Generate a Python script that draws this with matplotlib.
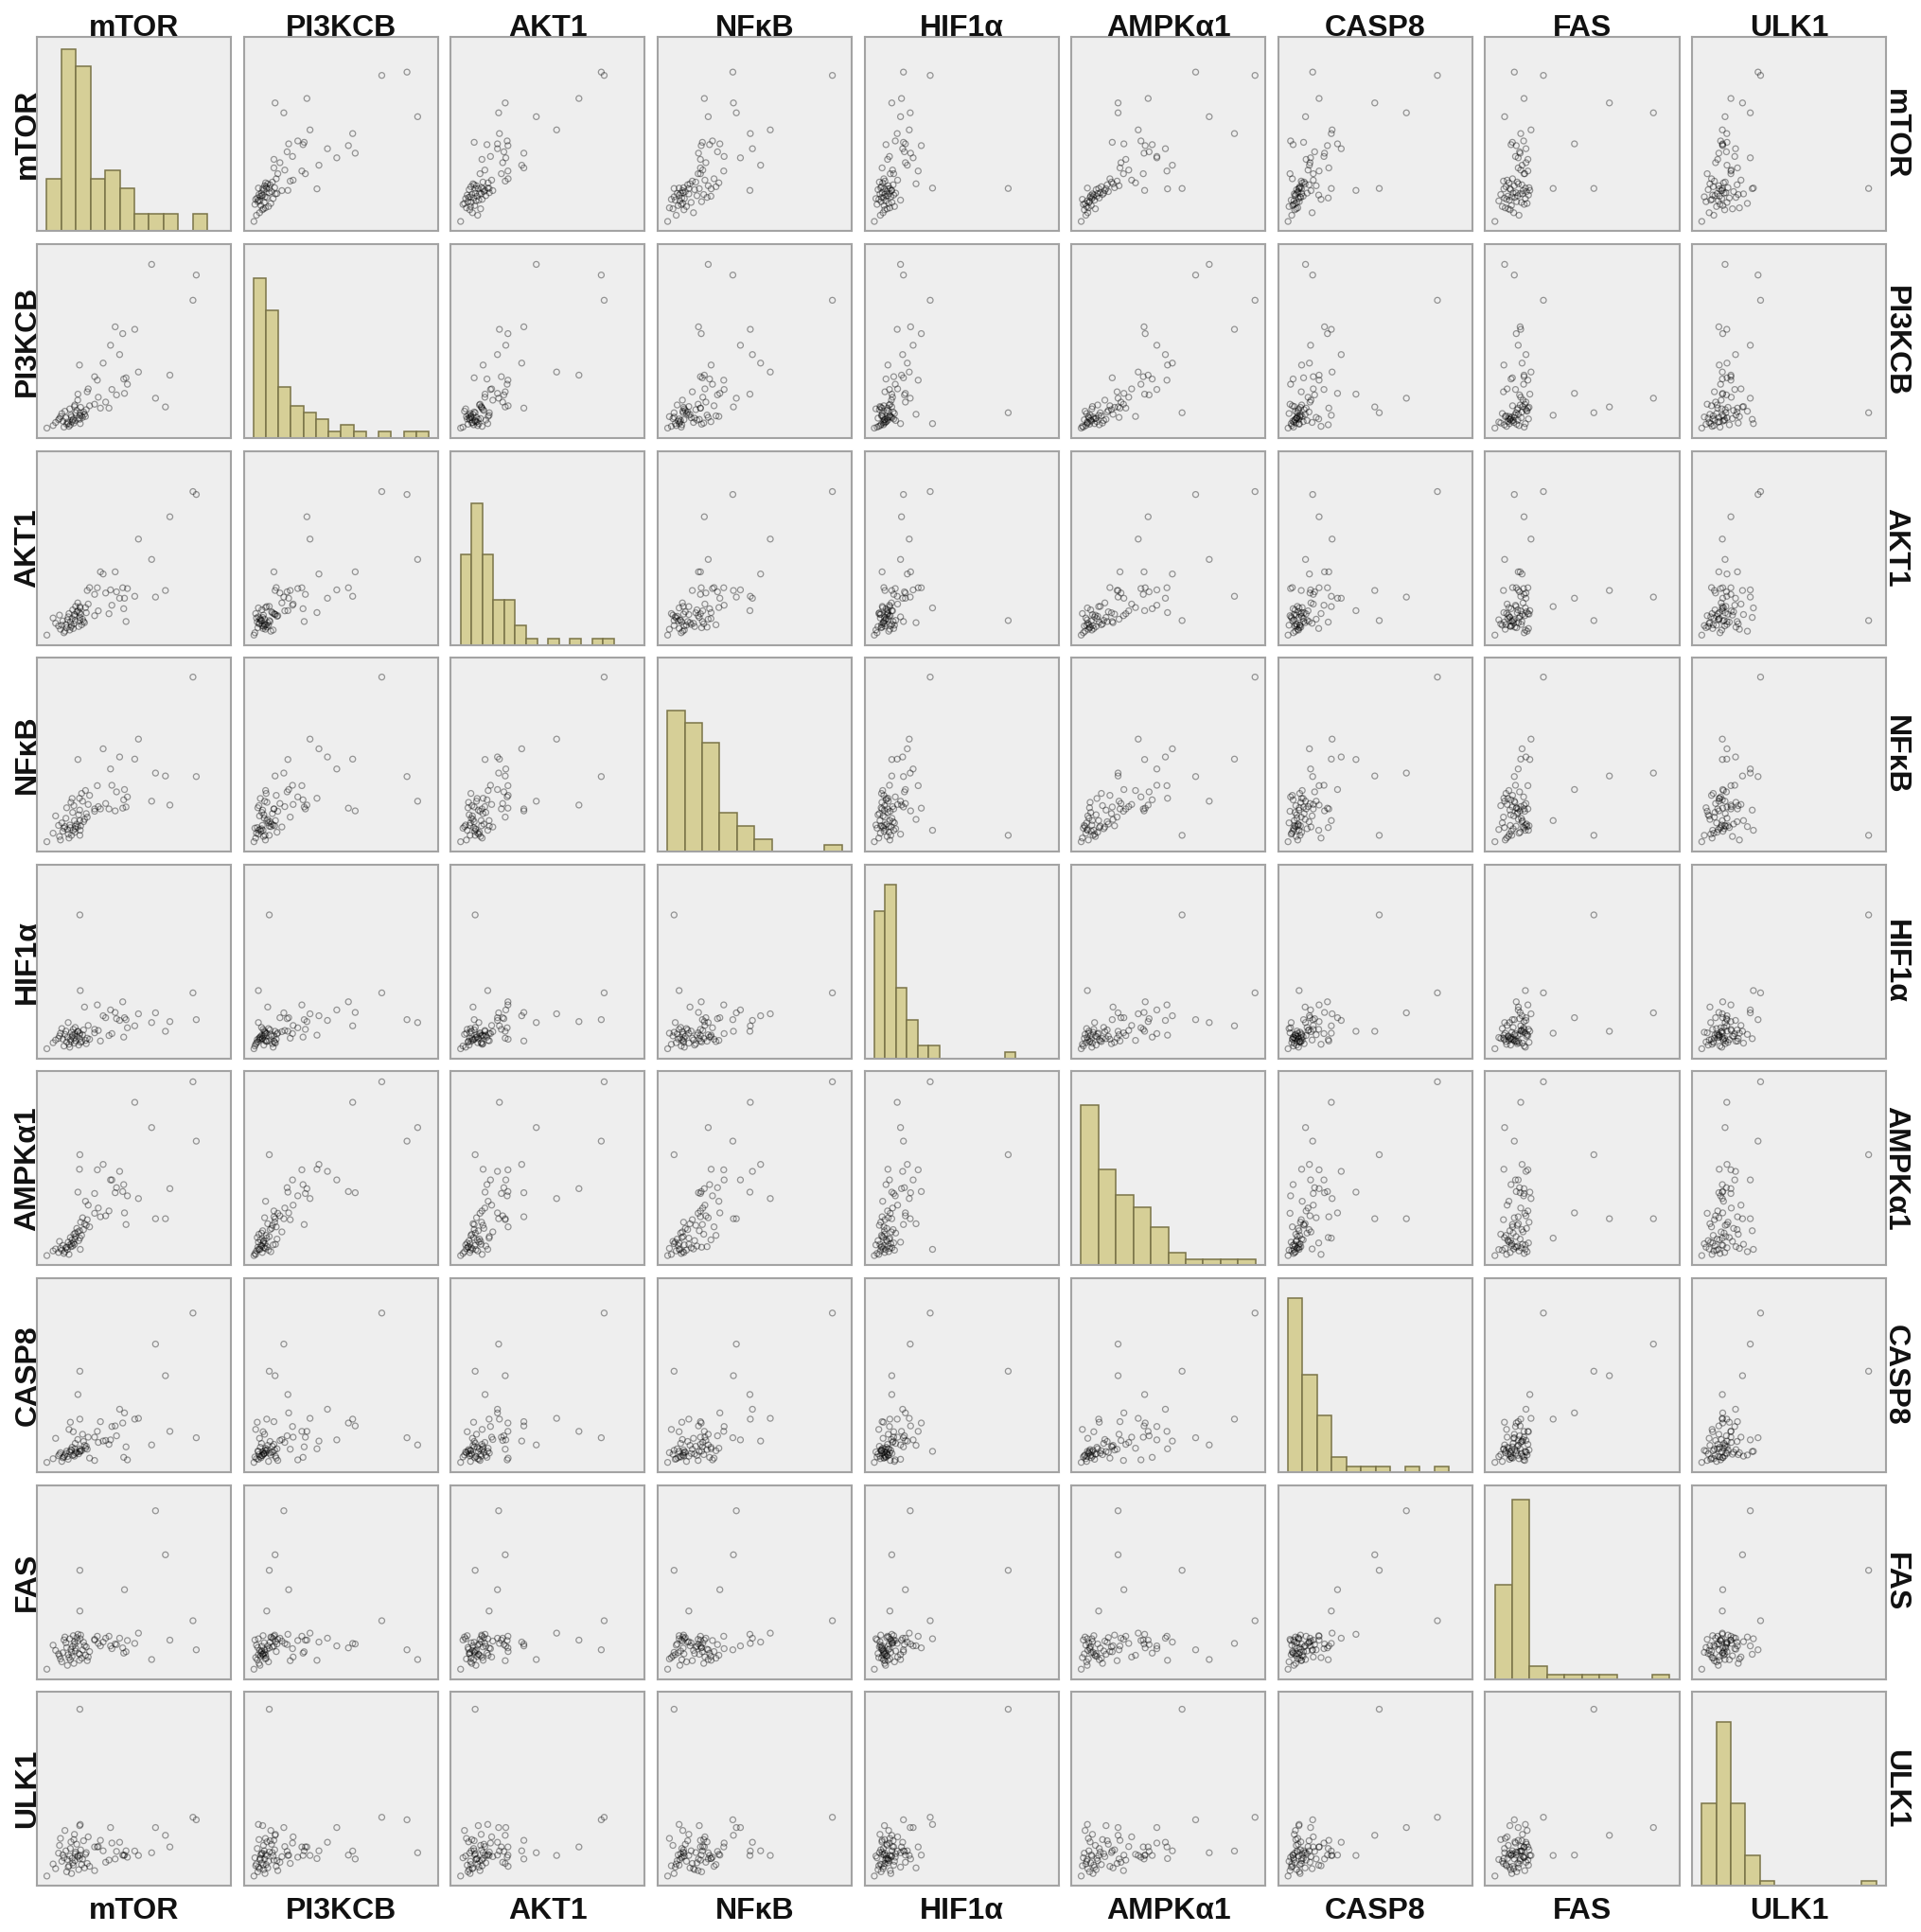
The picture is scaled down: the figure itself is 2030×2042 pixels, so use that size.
import matplotlib
matplotlib.use("Agg")
import matplotlib.pyplot as plt
import numpy as np

variables = ["mTOR", "PI3KCB", "AKT1", "NFκB", "HIF1α", "AMPKα1", "CASP8", "FAS", "ULK1"]

# 72 samples (0-100 = panel extent)
mTOR = [82.0, 80.3, 59.0, 68.4, 52.2, 22.0, 22.2, 50.3, 61.0, 66.1, 21.0, 45.0, 22.0, 34.0, 40.2, 44.1, 37.8, 31.0, 21.8, 42.5, 29.6, 45.8, 32.6,
        5.0, 11.0, 8.2, 12.0, 9.5, 13.8, 11.5, 12.7, 15.2, 13.2, 14.3, 16.4, 14.8, 15.6, 17.4, 16.0, 16.8, 18.3, 17.1, 17.7,
        19.2, 18.0, 18.6, 19.8, 18.9, 19.4, 21.4, 19.6, 20.4, 22.9, 20.9, 21.9, 24.4, 22.4, 23.4, 25.8, 23.9, 24.9, 29.6, 25.3,
        26.3, 37.0, 27.0, 31.5, 44.6, 35.3, 38.5, 46.5, 40.9]
PI3KCB = [84.0, 71.0, 89.5, 32.4, 34.0, 13.0, 7.4, 56.0, 20.5, 16.0, 22.6, 23.0, 11.7, 38.6, 57.3, 53.8, 47.8, 29.8, 37.6, 43.0, 31.6, 31.0, 15.4,
          5.1, 9.4, 6.4, 11.0, 8.0, 5.6, 10.0, 12.6, 7.1, 8.7, 13.8, 6.0, 10.4, 8.2, 11.8, 7.4, 15.0, 9.2, 6.8, 10.8,
          16.2, 8.4, 9.8, 13.0, 7.7, 17.0, 10.2, 9.0, 14.2, 11.4, 19.5, 9.6, 12.2, 15.8, 10.6, 23.8, 13.4, 11.1, 17.4, 14.6,
          25.3, 15.4, 16.6, 21.0, 30.4, 18.5, 25.0, 27.7, 22.2]
AKT1 = [77.5, 79.0, 44.0, 66.0, 54.5, 12.5, 19.0, 25.0, 24.6, 28.0, 17.6, 24.0, 19.7, 36.5, 37.6, 29.4, 28.3, 29.4, 16.6, 24.0, 26.0, 12.0, 37.6,
        5.0, 9.7, 13.8, 8.0, 11.1, 6.2, 15.3, 10.1, 8.8, 12.3, 7.0, 16.1, 10.5, 12.9, 9.1, 14.4, 7.6, 18.0, 11.7, 9.9,
        15.6, 13.5, 8.4, 19.8, 10.8, 14.7, 9.4, 12.6, 17.0, 10.3, 21.6, 14.1, 11.4, 15.8, 13.2, 28.0, 12.0, 19.2, 15.0, 16.5,
        21.0, 16.0, 29.5, 17.5, 18.6, 26.7, 20.4, 29.0, 27.3]
NFkB = [38.7, 90.0, 26.0, 24.0, 58.0, 8.4, 11.0, 47.7, 40.5, 39.0, 47.5, 32.0, 16.0, 53.0, 21.0, 22.4, 42.6, 34.0, 27.5, 48.8, 22.0, 23.0, 22.0,
        5.1, 13.5, 9.5, 6.0, 18.4, 12.1, 7.8, 14.8, 22.6, 10.5, 12.9, 7.0, 17.2, 11.4, 25.4, 9.0, 13.7, 20.2, 12.4, 8.4,
        16.0, 27.4, 11.0, 13.1, 23.7, 10.0, 19.0, 11.8, 14.2, 30.0, 12.7, 21.4, 16.6, 13.3, 26.0, 17.8, 15.4, 31.5, 20.8, 19.6,
        24.3, 22.0, 29.0, 23.2, 26.7, 24.8, 34.2, 28.2, 30.8]
HIF1a = [20.0, 33.8, 18.5, 19.0, 23.0, 74.0, 35.0, 16.8, 23.5, 14.0, 14.0, 21.0, 13.0, 22.0, 23.7, 29.2, 25.0, 27.6, 12.0, 19.6, 15.0, 20.0, 9.0,
         5.0, 10.35, 8.1, 13.0, 9.5, 6.4, 11.6, 15.4, 8.5, 10.0, 12.4, 7.3, 14.1, 10.8, 8.9, 18.5, 5.8, 12.0, 9.7, 13.5,
         7.9, 11.2, 15.0, 9.1, 10.3, 12.6, 6.9, 16.0, 11.4, 8.7, 13.8, 10.2, 26.5, 8.3, 12.2, 10.45, 14.7, 9.3, 13.2, 7.6,
         17.0, 11.8, 9.9, 14.4, 11.0, 21.0, 12.8, 15.8, 20.5]
AMPKa1 = [64.0, 94.6, 71.0, 39.5, 34.4, 57.0, 8.2, 84.0, 24.0, 24.0, 37.7, 27.0, 14.0, 52.0, 37.4, 38.0, 44.0, 49.2, 49.5, 48.4, 37.0, 21.0, 25.0,
          5.0, 6.6, 7.4, 8.7, 8.4, 6.1, 12.3, 7.8, 9.3, 10.2, 7.0, 5.6, 9.0, 8.1, 9.6, 11.9, 10.5, 9.9, 14.3, 11.1,
          10.8, 13.1, 11.5, 14.8, 16.0, 13.5, 12.7, 16.6, 19.0, 15.4, 17.2, 17.8, 21.4, 22.2, 24.5, 23.5, 18.4, 33.0, 26.8, 20.6,
          31.0, 28.0, 19.8, 29.5, 41.6, 25.5, 44.0, 35.8, 40.0]
CASP8 = [17.7, 82.0, 14.0, 21.0, 27.7, 52.0, 10.7, 27.3, 66.0, 49.7, 40.0, 30.5, 27.3, 16.0, 23.8, 25.3, 16.6, 21.0, 12.0, 32.4, 18.0, 13.0, 26.0,
         5.0, 8.4, 6.9, 10.0, 17.4, 7.8, 9.2, 5.5, 10.8, 7.4, 8.8, 22.0, 9.6, 8.0, 11.6, 6.6, 10.4, 8.6, 25.7, 11.2,
         8.2, 12.8, 20.8, 9.8, 9.0, 12.0, 9.4, 14.8, 10.2, 11.0, 16.8, 10.6, 13.8, 11.4, 19.5, 11.8, 15.8, 12.3, 6.0, 13.3,
         18.0, 14.3, 7.2, 15.3, 7.6, 16.3, 23.5, 6.3, 18.7]
FAS = [15.0, 30.0, 10.0, 20.0, 23.6, 56.0, 20.7, 18.3, 86.7, 64.0, 23.0, 46.0, 35.0, 19.0, 18.0, 16.0, 17.0, 22.0, 9.6, 21.0, 20.0, 14.0, 17.0,
       5.0, 12.9, 17.4, 10.3, 14.7, 20.1, 11.9, 8.8, 16.2, 13.5, 21.6, 11.0, 18.6, 7.0, 15.3, 12.5, 20.7, 16.8, 9.9, 13.7,
       19.2, 11.6, 22.3, 15.9, 8.0, 18.0, 13.1, 14.4, 21.3, 10.7, 19.5, 12.7, 17.1, 22.6, 15.0, 9.4, 18.9, 12.2, 20.4, 16.5,
       11.3, 22.0, 14.1, 18.3, 13.3, 21.0, 15.6, 19.8, 17.7]
ULK1 = [34.0, 35.3, 17.0, 20.0, 15.6, 91.0, 31.6, 17.9, 30.0, 26.0, 15.6, 15.8, 15.6, 18.0, 13.8, 15.8, 30.0, 20.0, 14.0, 22.4, 20.0, 18.0, 23.4,
        5.0, 16.8, 11.2, 24.4, 8.8, 14.4, 20.8, 12.6, 7.2, 15.9, 28.5, 10.3, 18.0, 13.5, 22.6, 9.6, 15.3, 11.8, 19.2, 6.3,
        26.5, 14.1, 10.6, 17.4, 23.8, 12.9, 8.3, 16.5, 21.4, 10.9, 15.0, 31.0, 9.2, 18.5, 13.8, 11.5, 23.2, 16.2, 7.8, 17.1,
        25.2, 13.2, 10.0, 20.2, 15.6, 12.1, 22.0, 14.7, 17.7]

data = [mTOR, PI3KCB, AKT1, NFkB, HIF1a, AMPKa1, CASP8, FAS, ULK1]

# histogram binning per variable
hist_start = [4.9, 4.7, 4.9, 4.9, 4.9, 4.9, 4.9, 4.9, 4.9]
hist_width = [7.53, 6.47, 5.65, 9.0, 5.6, 9.0, 7.55, 9.0, 7.5]
hist_nbins = [11, 14, 14, 10, 13, 10, 11, 10, 12]
hist_ymax = [22.4, 30.3, 30.2, 30.2, 30.2, 30.3, 37.8, 45.4, 37.8]

W, H = 2031, 2042
fig = plt.figure(figsize=(W / 100, H / 100), dpi=100)
fig.patch.set_facecolor("white")

x0, y0 = 39.3, 39.3
pitch = 218.6
size = 205.0
n = len(variables)

panel_bg = "#eeeeee"
frame_col = "#a3a3a3"
bar_fill = "#d6cf97"
bar_edge = "#7a7448"

for i in range(n):
    for j in range(n):
        left = (x0 + j * pitch) / W
        bottom = 1 - (y0 + i * pitch + size) / H
        ax = fig.add_axes([left, bottom, size / W, size / H])
        ax.set_facecolor(panel_bg)
        if i == j:
            edges = hist_start[i] + hist_width[i] * np.arange(hist_nbins[i] + 1)
            ax.hist(data[i], bins=edges, color=bar_fill, edgecolor=bar_edge, linewidth=1.1)
            ax.set_ylim(0, hist_ymax[i])
        else:
            ax.scatter(data[j], data[i], s=19, facecolors="none",
                       edgecolors=(0.0, 0.0, 0.0, 0.38), linewidths=0.9)
            ax.set_ylim(0, 100)
        ax.set_xlim(0, 100)
        ax.set_xticks([])
        ax.set_yticks([])
        for sp in ax.spines.values():
            sp.set_color(frame_col)
            sp.set_linewidth(1.5)

font = dict(family="Liberation Sans", fontweight="bold", fontsize=23, color="#111111")
for k, name in enumerate(variables):
    cx = (x0 + k * pitch + size / 2) / W
    cy = 1 - (y0 + k * pitch + size / 2) / H
    fig.text(cx, 1 - (y0 - 1) / H, name, ha="center", va="baseline", **font)
    fig.text(cx, 1 - 2028 / H, name, ha="center", va="baseline", **font)
    fig.text((x0 + 5) / W, cy, name, rotation=90, ha="right", va="center", **font)
    fig.text((x0 + 8 * pitch + size - 5) / W, cy, name, rotation=270, ha="left", va="center", **font)

fig.savefig("out.png", dpi=100)
